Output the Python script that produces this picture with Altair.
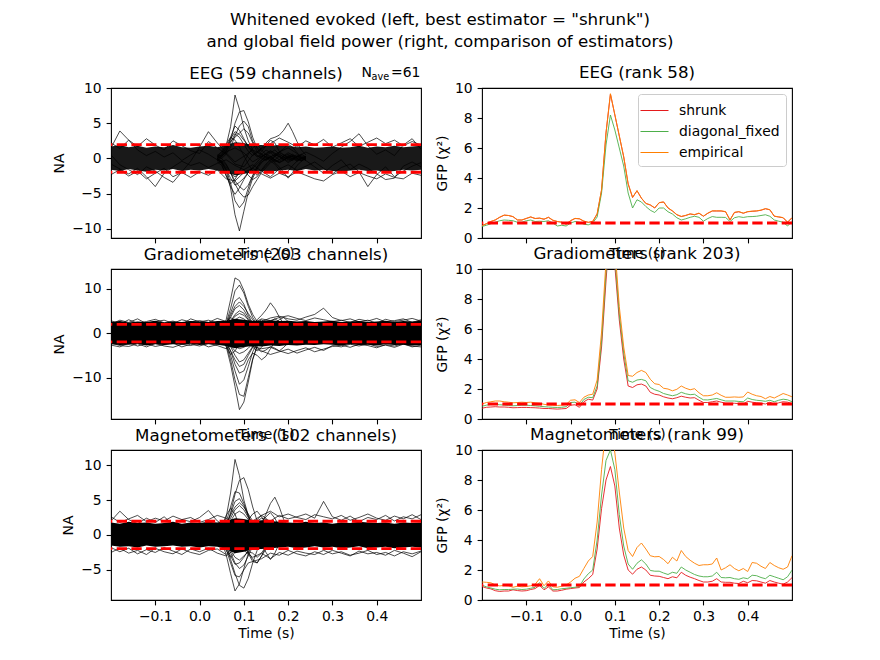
import altair as alt
import numpy as np
import pandas as pd

FONT = "DejaVu Sans"

# ---------------- time grids ----------------
t_gfp = np.round(np.arange(71) * 0.01 - 0.2, 2).tolist()   # GFP samples
t_band = np.round(np.arange(36) * 0.02 - 0.2, 2).tolist()  # band / noise traces
t_win = np.round(np.arange(21) * 0.01 + 0.04, 2).tolist()  # evoked window traces

estimators = ["shrunk", "diagonal_fixed", "empirical"]
est_colors = ["#e41a1c", "#4daf4a", "#ff7f00"]
whiten_bounds = [1.96, -1.96]
gfp_ref = [1.0]
x_ticks = [-0.1, 0.0, 0.1, 0.2, 0.3, 0.4]

sup_title = ['Whitened evoked (left, best estimator = "shrunk")',
             'and global field power (right, comparison of estimators)']
left_titles = ["EEG (59 channels)", "Gradiometers (203 channels)", "Magnetometers (102 channels)"]
right_titles = ["EEG (rank 58)", "Gradiometers (rank 203)", "Magnetometers (rank 99)"]
nave_parts = ["N", "ave", "=61"]

# ---------------- GFP values (right column) ----------------
eeg_shrunk = [0.82, 0.95, 1.1, 1.2, 1.38, 1.52, 1.5, 1.42, 1.2, 1.2,
              1.3, 1.4, 1.3, 1.32, 1.25, 1.38, 1.18, 1.1, 1.05, 0.92,
              1.15, 1.3, 1.28, 1.12, 1.04, 1.1, 1.6, 3.2, 7.0, 9.6,
              8.2, 6.8, 5.4, 3.6, 2.7, 3.15, 2.65, 2.3, 2.2, 2.0,
              2.35, 2.4, 2.0, 1.8, 1.55, 1.43, 1.5, 1.6, 1.55, 1.65,
              1.45, 1.65, 1.8, 1.8, 1.8, 1.75, 1.2, 1.7, 1.75, 1.65,
              1.75, 1.78, 1.8, 1.85, 1.95, 1.88, 1.45, 1.4, 1.35, 1.05,
              1.35]
eeg_empirical = [0.83, 0.96, 1.1, 1.21, 1.39, 1.53, 1.5, 1.43, 1.21, 1.2,
                 1.31, 1.41, 1.3, 1.33, 1.26, 1.38, 1.19, 1.1, 1.06, 0.93,
                 1.16, 1.31, 1.28, 1.13, 1.05, 1.11, 1.61, 3.22, 7.02, 9.62,
                 8.22, 6.82, 5.42, 3.62, 2.71, 3.16, 2.66, 2.31, 2.21, 2.01,
                 2.36, 2.41, 2.01, 1.81, 1.56, 1.44, 1.51, 1.61, 1.56, 1.66,
                 1.46, 1.66, 1.81, 1.81, 1.81, 1.76, 1.21, 1.71, 1.76, 1.66,
                 1.76, 1.79, 1.81, 1.86, 1.96, 1.89, 1.46, 1.41, 1.36, 1.06,
                 1.36]
eeg_diag = [0.77, 0.85, 0.95, 1.05, 1.15, 1.2, 1.18, 1.15, 1.05, 1.05,
            1.15, 1.2, 1.1, 1.12, 1.1, 1.15, 1.0, 0.8, 0.85, 0.8,
            1.0, 1.1, 1.05, 0.92, 0.88, 1.0, 1.4, 3.0, 6.2, 8.2,
            7.2, 6.0, 4.8, 3.0, 2.0, 2.55, 2.4, 2.1, 1.85, 1.7,
            2.0, 2.0, 1.75, 1.6, 1.35, 1.2, 1.28, 1.38, 1.45, 1.38,
            1.12, 1.3, 1.43, 1.38, 1.38, 1.37, 1.1, 1.35, 1.42, 1.37,
            1.42, 1.43, 1.45, 1.5, 1.55, 1.45, 1.2, 1.12, 1.05, 0.8,
            1.1]

grad_empirical = [1.0, 1.1, 1.15, 1.2, 1.2, 1.15, 1.12, 1.08, 1.1, 1.12,
                  1.1, 1.12, 1.08, 1.05, 0.98, 0.93, 0.92, 0.9, 0.92, 0.97,
                  1.25, 1.28, 1.1, 1.45, 1.6, 1.65, 2.6, 5.8, 10.5, 14.5,
                  11.5, 7.5, 4.8, 2.9, 2.85, 3.1, 3.24, 3.1, 2.65, 2.35,
                  2.3, 2.05, 2.0, 1.88, 1.98, 2.2, 2.05, 1.95, 2.02, 1.75,
                  1.55, 1.55, 1.6, 1.75, 1.58, 1.45, 1.45, 1.47, 1.45, 1.47,
                  1.8, 1.65, 1.55, 1.5, 1.35, 1.5, 1.4, 1.55, 1.7, 1.6,
                  1.48]
grad_diag = [0.85, 0.92, 0.97, 0.97, 0.95, 0.93, 0.9, 0.88, 0.9, 0.92,
             0.92, 0.9, 0.88, 0.85, 0.82, 0.8, 0.78, 0.77, 0.78, 0.82,
             1.1, 1.12, 0.9, 1.3, 1.45, 1.42, 2.2, 5.2, 9.8, 13.8,
             10.8, 7.0, 4.4, 2.55, 2.45, 2.6, 2.64, 2.55, 2.1, 1.95,
             1.85, 1.7, 1.62, 1.55, 1.62, 1.78, 1.68, 1.62, 1.65, 1.45,
             1.28, 1.27, 1.32, 1.37, 1.28, 1.2, 1.2, 1.2, 1.17, 1.15,
             1.4, 1.3, 1.25, 1.22, 1.18, 1.25, 1.15, 1.25, 1.32, 1.28,
             1.15]
grad_shrunk = [0.72, 0.78, 0.8, 0.82, 0.8, 0.8, 0.78, 0.75, 0.76, 0.77,
               0.77, 0.76, 0.75, 0.73, 0.7, 0.7, 0.68, 0.66, 0.68, 0.7,
               0.92, 0.95, 0.78, 1.15, 1.32, 1.26, 2.0, 4.8, 9.2, 13.2,
               10.2, 6.6, 4.0, 2.2, 2.1, 2.28, 2.33, 2.2, 1.78, 1.65,
               1.6, 1.48, 1.4, 1.35, 1.42, 1.52, 1.45, 1.4, 1.42, 1.25,
               1.1, 1.1, 1.15, 1.2, 1.12, 1.05, 1.05, 1.05, 1.02, 1.0,
               1.18, 1.12, 1.08, 1.05, 1.0, 1.12, 0.98, 1.08, 1.15, 1.12,
               1.03]

mag_empirical = [1.2, 1.18, 1.15, 1.0, 0.94, 0.97, 0.95, 0.85, 0.92, 0.88,
                 0.9, 0.95, 1.05, 1.42, 0.95, 1.27, 0.88, 0.85, 0.92, 1.0,
                 1.2, 1.45, 1.58, 2.1, 2.6, 2.9, 5.2, 8.7, 11.5, 12.0,
                 9.8, 7.2, 4.8, 3.3, 2.9, 3.5, 3.8, 3.4, 2.95, 2.88,
                 2.9, 2.7, 2.42, 2.85, 2.6, 3.3, 2.9, 2.65, 2.45, 2.3,
                 2.35, 2.35, 2.4, 2.8, 2.0, 2.15, 2.35, 2.1, 1.95, 2.1,
                 1.9, 2.5, 2.45, 2.25, 2.1, 2.5, 2.3, 2.15, 2.05, 2.2,
                 2.95]
mag_diag = [0.98, 0.88, 0.8, 0.72, 0.68, 0.7, 0.7, 0.72, 0.73, 0.7,
            0.72, 0.78, 0.85, 1.16, 0.77, 1.05, 0.68, 0.7, 0.75, 0.78,
            0.82, 0.85, 0.9, 1.4, 1.75, 2.0, 4.0, 7.0, 9.3, 10.0,
            8.7, 5.7, 3.6, 2.4, 2.05, 2.45, 2.68, 2.4, 1.97, 1.92,
            1.92, 1.8, 1.7, 1.85, 1.78, 2.2, 2.0, 1.85, 1.7, 1.6,
            1.55, 1.55, 1.6, 1.85, 1.5, 1.48, 1.5, 1.42, 1.38, 1.48,
            1.42, 1.65, 1.62, 1.5, 1.42, 1.65, 1.55, 1.45, 1.35, 1.55,
            1.99]
mag_shrunk = [0.9, 0.8, 0.74, 0.62, 0.57, 0.6, 0.6, 0.68, 0.63, 0.6,
              0.62, 0.7, 0.76, 0.98, 0.68, 0.87, 0.6, 0.6, 0.65, 0.72,
              0.76, 0.8, 0.83, 1.2, 1.42, 1.7, 3.4, 6.1, 8.0, 8.9,
              7.6, 4.8, 3.0, 2.0, 1.72, 2.05, 2.2, 2.0, 1.65, 1.6,
              1.58, 1.5, 1.42, 1.55, 1.48, 1.85, 1.65, 1.52, 1.42, 1.3,
              1.2, 1.2, 1.25, 1.42, 1.2, 1.18, 1.18, 1.12, 1.1, 1.25,
              1.15, 1.3, 1.28, 1.2, 1.12, 1.3, 1.2, 1.12, 1.05, 1.2,
              1.49]

# ---------------- whitened evoked (left column) ----------------
# dense noise band envelope (t_band)
eeg_band_hi = [1.7, 1.9, 1.6, 1.8, 1.5, 1.7, 1.6, 1.9, 1.6, 1.5, 1.7, 1.8, 1.6, 1.9, 2.3, 2.2, 1.9, 1.9,
               1.8, 1.9, 1.8, 1.6, 1.7, 1.5, 1.6, 1.7, 1.5, 1.6, 1.8, 1.5, 1.7, 1.6, 1.8, 1.6, 1.7, 1.8]
eeg_band_lo = [-1.6, -1.8, -1.5, -1.7, -1.9, -1.6, -1.7, -1.5, -1.8, -1.6, -1.7, -1.5, -1.7, -2.0, -2.4, -2.2, -1.9, -1.8,
               -1.9, -1.7, -1.6, -1.8, -1.5, -1.7, -1.6, -1.8, -1.9, -1.7, -1.6, -1.8, -1.7, -1.9, -1.8, -1.6, -1.7, -1.6]
grad_band_hi = [2.5, 2.7, 2.4, 2.6, 2.5, 2.8, 2.4, 2.6, 2.5, 2.7, 2.6, 2.5, 2.7, 2.8, 3.2, 3.0, 2.8, 2.8,
                2.9, 2.7, 2.8, 2.6, 2.7, 2.5, 2.6, 2.8, 2.5, 2.6, 2.7, 2.5, 2.6, 2.8, 2.5, 2.7, 2.6, 2.8]
grad_band_lo = [-2.5, -2.7, -2.6, -2.4, -2.8, -2.5, -2.7, -2.5, -2.6, -2.4, -2.7, -2.5, -2.6, -2.9, -3.4, -3.1, -2.9, -3.0,
                -2.8, -2.9, -2.7, -2.8, -2.6, -2.7, -2.5, -2.6, -2.8, -2.5, -2.7, -2.6, -2.8, -2.5, -2.7, -2.6, -2.8, -2.7]
mag_band_hi = [1.8, 1.6, 1.9, 1.7, 1.8, 1.6, 1.7, 1.9, 1.6, 1.8, 1.7, 1.9, 1.8, 2.0, 2.4, 2.3, 2.0, 2.1,
               2.0, 1.9, 1.8, 1.7, 1.9, 1.7, 1.8, 1.6, 1.8, 1.7, 1.9, 1.8, 1.7, 1.8, 1.6, 1.8, 1.7, 1.8]
mag_band_lo = [-1.5, -1.7, -1.6, -1.8, -1.5, -1.7, -1.6, -1.5, -1.7, -1.6, -1.8, -1.6, -1.7, -2.0, -2.6, -2.4, -2.0, -2.0,
               -1.9, -1.8, -1.7, -1.9, -1.8, -1.6, -1.8, -1.7, -1.9, -1.8, -1.6, -1.9, -1.8, -1.7, -1.9, -1.8, -1.7, -1.8]

# channels leaving the band (t_band)
eeg_noise = [
    [1.5, 3.9, 2.6, 1.2, 0.4, 1.0, 0.2, 0.8, -0.3, 0.5, 1.2, 0.6, -0.2, 0.9, 1.5, 0.8, -0.5, 0.3,
     1.1, 0.4, -0.6, 0.2, 0.9, 0.3, -0.4, 0.7, 1.6, 2.4, 3.5, 1.8, 0.6, 1.2, 0.4, 1.9, 2.8, 1.3],
    [-0.8, -1.5, -2.2, -1.4, -2.6, -4.0, -2.1, -1.2, -0.4, -1.0, -0.6, -1.3, -0.7, -0.2, -1.0, -1.6, -0.9, -1.8,
     -2.6, -1.5, -0.9, -1.7, -1.1, -0.5, -1.4, -2.2, -1.3, -0.8, -1.9, -4.0, -2.3, -1.2, -2.6, -1.8, -1.1, -0.6],
    [0.5, -0.9, -1.6, -2.3, -1.2, -1.8, -2.7, -3.4, -1.9, -0.4, 1.6, 3.8, 2.2, 0.8, -0.5, 0.3, 1.2, 0.6,
     -0.4, 0.9, 1.5, 0.7, -0.3, -1.2, -2.1, -1.0, -0.2, -1.6, -0.8, -1.4, -2.2, -3.0, -2.8, -1.1, -0.5, -1.2],
    [2.2, 1.4, 2.6, 1.7, 2.8, 1.9, 1.2, 2.5, 1.8, 1.1, 0.7, 2.4, 1.5, 0.6, -0.8, -1.2, 0.5, 1.4,
     2.1, 2.9, 2.3, 1.6, 2.5, 1.9, 2.7, 1.6, 2.2, 2.8, 1.7, 2.3, 2.9, 2.1, 2.6, 1.8, 2.4, 1.9],
    [-2.3, -1.6, -2.5, -1.8, -2.9, -2.1, -1.4, -2.6, -2.0, -2.7, -1.9, -2.4, -1.6, -2.9, -3.2, -2.0, -1.4, -2.2,
     -2.8, -2.1, -2.6, -1.9, -2.4, -2.9, -3.2, -2.3, -1.8, -2.6, -2.0, -2.5, -2.9, -2.2, -2.7, -2.9, -2.1, -2.4],
]
grad_noise = [
    [2.8, 2.0, 3.0, 2.2, 2.6, 3.1, 2.3, 2.7, 2.0, 3.2, 2.5, 2.9, 2.2, 2.0, 1.0, 0.5, 1.5, 2.6,
     3.4, 3.8, 3.2, 2.9, 3.6, 4.2, 5.6, 3.5, 2.8, 3.2, 2.5, 2.9, 2.2, 3.1, 2.6, 2.9, 3.3, 2.7],
    [-2.7, -3.1, -2.2, -2.9, -2.4, -3.0, -2.6, -2.2, -3.1, -2.5, -2.9, -2.3, -2.8, -3.5, -2.0, -1.0, -2.5, -4.0,
     -4.8, -4.2, -3.6, -4.5, -3.8, -3.2, -3.9, -2.8, -3.1, -2.5, -2.9, -2.4, -3.0, -2.7, -3.2, -2.5, -2.9, -3.1],
    [2.0, 2.9, 2.4, 3.2, 2.1, 2.6, 2.9, 2.2, 3.0, 2.5, 2.8, 2.4, 3.3, 2.6, 1.5, 1.0, 2.2, 3.2,
     2.8, 3.5, 3.9, 3.3, 2.8, 3.4, 3.0, 2.6, 2.9, 2.4, 3.1, 2.7, 3.3, 2.5, 2.8, 3.2, 2.4, 3.0],
    [-2.2, -2.8, -3.0, -2.4, -3.1, -2.3, -2.9, -3.2, -2.5, -2.8, -2.2, -3.1, -2.6, -2.0, -1.5, -2.2, -3.0, -3.5,
     -3.2, -4.0, -4.6, -3.9, -3.3, -4.2, -3.6, -3.0, -2.7, -3.2, -2.5, -2.8, -3.3, -2.6, -2.9, -2.4, -3.1, -2.7],
]
mag_noise = [
    [2.0, 3.4, 2.2, 1.6, 2.4, 1.8, 2.6, 1.5, 2.2, 1.9, 2.5, 3.5, 2.0, 1.2, 0.5, 0.8, 1.6, 2.4,
     2.0, 2.8, 2.3, 2.6, 3.0, 2.4, 4.8, 2.6, 2.1, 2.7, 1.9, 2.5, 2.2, 2.8, 2.0, 2.6, 2.3, 2.9],
    [-1.8, -2.4, -1.9, -2.7, -2.1, -2.5, -1.8, -2.3, -2.8, -2.0, -2.4, -1.9, -2.6, -3.0, -2.0, -1.5, -3.8, -3.4,
     -2.6, -2.9, -2.2, -2.7, -3.0, -2.4, -2.8, -2.2, -2.6, -3.0, -2.3, -2.7, -2.5, -2.9, -2.2, -2.6, -3.1, -2.4],
    [2.6, 1.8, 2.3, 2.8, 1.9, 2.4, 2.0, 2.7, 2.2, 2.5, 1.8, 2.2, 2.8, 2.4, 1.4, 1.0, 2.0, 2.8,
     3.4, 2.6, 3.0, 2.5, 2.2, 2.9, 2.6, 2.3, 2.8, 2.1, 2.5, 3.0, 2.4, 2.1, 2.7, 2.3, 2.9, 2.2],
    [-2.5, -1.9, -2.6, -2.2, -2.8, -1.9, -2.4, -2.7, -2.0, -2.5, -2.8, -2.2, -2.0, -2.8, -1.5, -2.2, -3.2, -2.6,
     -3.4, -2.5, -2.9, -2.3, -2.6, -2.8, -2.2, -2.7, -2.4, -2.9, -2.6, -2.2, -2.8, -2.5, -3.0, -2.4, -2.7, -2.3],
]

# evoked response traces (t_win)
eeg_evoked = [
    [0.3, 0.8, 1.8, 4.5, 9.0, 7.0, 4.4, 2.5, 1.2, 0.4, 0.0, -0.3, 0.2, 0.5, 0.3, -0.2, 0.1, 0.4, 0.0, -0.3, 0.2],
    [0.0, 0.4, 1.0, 2.5, 5.0, 6.6, 6.8, 5.2, 3.0, 1.4, 0.6, 0.2, -0.2, 0.3, 0.6, 0.2, -0.1, 0.3, 0.5, 0.1, -0.2],
    [0.2, 0.0, 0.6, 1.6, 3.2, 4.6, 5.3, 4.5, 2.4, 1.5, 1.0, 1.8, 2.6, 2.2, 1.0, 0.5, 0.2, -0.1, 0.3, 0.6, 0.2],
    [-0.3, 0.2, 1.2, 3.0, 4.6, 4.0, 2.8, 1.6, 0.8, 0.2, 0.6, 1.2, 0.8, 0.3, -0.2, 0.4, 0.8, 0.5, 0.0, -0.4, 0.1],
    [0.5, 0.3, 0.8, 2.2, 3.5, 3.0, 2.0, 1.0, 0.4, 0.8, 1.5, 2.2, 2.8, 3.0, 3.3, 4.0, 5.0, 3.8, 2.4, 1.2, 0.5],
    [-0.2, -0.6, -1.8, -4.2, -8.0, -10.3, -7.5, -4.8, -2.8, -1.5, -0.6, 0.0, 0.3, -0.2, -0.5, 0.1, 0.4, 0.2, -0.3, 0.0, 0.3],
    [0.0, -0.4, -1.5, -3.5, -6.0, -7.0, -6.2, -4.2, -2.5, -1.2, -0.5, -0.1, 0.2, -0.3, -0.6, -0.2, 0.2, 0.0, -0.4, -0.1, 0.2],
    [0.3, 0.0, -0.8, -2.0, -3.6, -4.8, -5.5, -5.2, -4.0, -3.0, -2.0, -1.3, -0.6, -0.2, 0.3, 0.0, -0.4, -0.1, 0.3, 0.0, -0.3],
    [-0.5, -1.0, -2.4, -4.0, -5.1, -4.2, -3.0, -2.0, -1.4, -0.8, -0.2, 0.3, 0.0, -0.6, -1.2, -2.0, -2.8, -2.0, -1.0, -0.4, 0.0],
    [0.0, -0.8, -2.5, -3.6, -3.0, -1.8, -0.5, 0.6, 1.5, 2.0, 1.2, 0.5, 0.0, -0.5, -0.2, 0.3, 0.6, 0.2, -0.2, 0.1, 0.3],
    [0.4, 1.0, 2.0, 3.0, 2.6, 1.6, 0.4, -0.8, -1.8, -2.4, -1.6, -0.8, -0.2, 0.4, 0.8, 0.5, 0.0, -0.3, 0.2, 0.4, 0.0],
    [-0.2, -0.3, -0.9, -2.0, -3.2, -4.0, -4.5, -3.8, -2.4, -1.2, -0.3, 0.4, 0.8, 1.2, 0.6, 0.2, -0.2, 0.0, 0.3, 0.1, -0.1],
    [0.2, 0.5, 1.4, 2.8, 3.8, 3.4, 2.6, 1.8, 1.0, 0.4, 0.2, 0.6, 1.0, 0.6, 0.2, -0.2, 0.3, 0.6, 0.2, -0.1, 0.3],
    [-0.3, -0.6, -1.6, -2.8, -3.8, -3.4, -2.8, -2.0, -1.2, -0.5, 0.2, 0.6, 0.3, -0.2, -0.6, -0.3, 0.2, 0.4, 0.0, -0.3, 0.0],
    [0.1, 0.6, 1.6, 2.4, 3.0, 3.6, 4.2, 3.6, 2.2, 1.0, 0.3, -0.2, 0.2, 0.6, 0.9, 1.4, 2.0, 1.6, 0.8, 0.2, -0.1],
    [0.0, -0.5, -1.2, -2.2, -2.6, -2.2, -1.6, -2.4, -3.0, -2.6, -1.8, -1.0, -0.4, -0.8, -1.6, -2.2, -1.8, -1.0, -0.4, 0.1, 0.2],
]
grad_evoked = [
    [0.3, 1.0, 3.0, 7.5, 12.4, 11.8, 9.6, 6.5, 4.2, 2.6, 1.5, 0.8, 0.3, -0.2, 0.4, 0.6, 0.1, -0.3, 0.2, 0.5, 0.0],
    [-0.2, 0.6, 2.2, 5.5, 9.5, 10.8, 9.0, 6.0, 3.5, 2.0, 1.0, 0.4, 0.8, 1.2, 0.6, 0.0, -0.4, 0.3, 0.6, 0.1, -0.2],
    [0.4, 0.8, 2.0, 4.5, 7.2, 8.0, 6.5, 4.0, 2.2, 1.2, 0.4, -0.2, 0.3, 0.8, 0.4, 0.0, 0.5, 0.2, -0.3, 0.0, 0.4],
    [0.0, 0.5, 1.5, 3.5, 5.5, 6.2, 5.2, 3.5, 2.0, 3.0, 4.0, 5.2, 6.8, 5.5, 3.6, 2.0, 0.8, 0.2, -0.3, 0.2, 0.5],
    [-0.3, 0.2, 1.0, 2.6, 4.2, 5.0, 4.5, 3.0, 1.6, 0.6, 0.0, 0.4, 0.9, 0.5, -0.2, 0.3, 0.8, 0.4, 0.0, -0.4, 0.0],
    [-0.4, -1.0, -3.0, -7.0, -12.0, -17.2, -15.5, -11.0, -6.0, -2.8, -1.0, -0.2, 0.3, -0.4, -0.8, -0.2, 0.4, 0.1, -0.3, 0.0, 0.3],
    [0.2, -0.6, -2.5, -6.0, -10.5, -13.8, -14.2, -10.0, -5.8, -3.0, -1.5, -0.6, 0.0, 0.5, 0.2, -0.3, -0.6, -0.1, 0.3, 0.0, -0.2],
    [-0.2, -0.8, -2.0, -5.0, -8.5, -11.5, -10.5, -7.5, -4.2, -2.2, -1.0, -0.3, 0.2, -0.2, -0.6, -0.3, 0.2, 0.5, 0.1, -0.3, 0.0],
    [0.0, -0.5, -1.8, -4.0, -7.0, -9.0, -8.5, -6.0, -4.5, -5.0, -6.0, -5.2, -3.5, -2.0, -1.0, -0.3, 0.2, -0.2, -0.5, 0.0, 0.3],
    [0.3, -0.2, -1.2, -3.0, -5.0, -6.5, -6.0, -4.5, -3.0, -1.8, -0.6, 0.2, 0.6, 0.3, -0.3, -0.8, -0.4, 0.2, 0.4, 0.0, -0.3],
    [-0.5, -1.2, -3.0, -4.8, -4.0, -2.5, -1.0, 0.2, 1.2, 2.4, 3.0, 2.0, 1.0, 0.4, -0.2, 0.2, 0.6, 0.3, -0.2, 0.1, 0.4],
    [0.5, 1.2, 2.5, 3.5, 2.8, 1.2, -0.5, -2.0, -3.2, -4.0, -3.2, -1.8, -0.6, 0.2, 0.5, 0.1, -0.3, 0.2, 0.6, 0.2, -0.2],
    [0.0, 0.3, 0.8, 1.8, 3.0, 3.6, 3.2, 2.4, 1.4, 0.6, 0.3, 0.8, 1.5, 2.2, 3.0, 3.5, 2.6, 1.4, 0.6, 0.2, 0.0],
    [-0.1, -0.3, -1.0, -2.0, -3.0, -3.5, -3.2, -2.6, -2.8, -3.6, -4.2, -3.8, -3.0, -3.4, -4.0, -3.2, -2.2, -1.2, -0.5, 0.0, 0.2],
    [0.2, 0.8, 2.0, 4.0, 6.0, 7.0, 6.0, 4.4, 3.0, 2.0, 1.4, 2.0, 2.6, 3.2, 2.6, 1.6, 0.8, 0.3, 0.0, 0.3, 0.2],
    [-0.2, -0.8, -2.2, -4.0, -6.0, -7.5, -7.0, -5.0, -3.2, -2.0, -1.2, -0.6, -1.0, -1.8, -2.6, -2.0, -1.2, -0.6, 0.0, 0.2, -0.1],
    [0.0, 0.4, 1.2, 2.5, 3.8, 4.4, 4.0, 3.0, 2.0, 1.2, 0.6, 0.2, -0.2, 0.3, 0.6, 0.2, -0.2, 0.1, 0.4, 0.0, -0.2],
    [0.1, -0.4, -1.4, -2.8, -4.0, -4.6, -4.2, -3.4, -2.4, -1.6, -0.8, -0.3, 0.2, 0.5, 0.1, -0.4, -0.8, -0.3, 0.2, 0.4, 0.0],
]
mag_evoked = [
    [0.2, 0.8, 2.5, 6.0, 10.8, 8.5, 5.0, 2.8, 1.2, 0.4, 0.0, 0.5, 1.0, 0.4, -0.2, 0.3, 0.6, 0.1, -0.3, 0.2, 0.4],
    [-0.2, 0.3, 1.2, 3.2, 5.8, 7.8, 8.2, 6.5, 4.0, 2.0, 0.8, 0.2, -0.3, 0.2, 0.6, 0.2, -0.2, 0.3, 0.5, 0.0, -0.3],
    [0.3, 0.6, 1.8, 4.0, 6.2, 6.0, 4.5, 2.8, 1.5, 0.8, 1.6, 3.0, 4.5, 5.4, 4.0, 2.2, 1.0, 0.3, -0.2, 0.3, 0.5],
    [0.0, 0.4, 1.4, 3.0, 4.8, 5.2, 4.2, 2.6, 1.2, 0.3, -0.3, 0.2, 0.8, 0.4, -0.1, 0.4, 0.7, 0.2, -0.3, 0.1, 0.4],
    [-0.3, -1.0, -2.8, -5.5, -8.0, -7.0, -4.8, -2.6, -1.2, -0.4, 0.2, 0.5, 0.1, -0.4, 0.0, 0.4, 0.2, -0.3, 0.0, 0.3, -0.1],
    [0.2, -0.4, -1.5, -3.5, -5.5, -7.2, -7.6, -6.2, -4.0, -2.2, -0.8, 0.0, 0.4, 0.1, -0.3, 0.2, 0.5, 0.1, -0.3, 0.0, 0.2],
    [-0.2, -0.6, -2.0, -4.0, -5.8, -6.0, -5.0, -4.0, -3.8, -4.0, -3.0, -2.0, -1.0, -0.3, 0.2, 0.0, -0.4, 0.1, 0.4, 0.0, -0.2],
    [0.0, -0.3, -1.0, -2.5, -4.0, -4.8, -4.3, -3.0, -1.6, -0.6, -1.2, -2.5, -3.5, -2.6, -1.2, -0.3, 0.2, 0.5, 0.1, -0.3, 0.0],
    [0.5, 1.2, 2.8, 3.8, 3.0, 1.2, -0.8, -2.4, -3.5, -4.0, -3.0, -1.6, -0.5, 0.3, 0.8, 0.4, -0.1, 0.2, 0.5, 0.1, -0.2],
    [-0.4, -1.0, -2.2, -3.2, -2.5, -1.0, 0.8, 2.2, 3.0, 3.4, 2.6, 1.5, 0.6, 0.0, -0.5, -0.2, 0.3, 0.6, 0.2, -0.2, 0.1],
    [0.1, 0.4, 1.2, 2.4, 3.6, 4.2, 3.6, 2.5, 1.6, 1.0, 1.8, 2.6, 3.2, 2.4, 1.2, 0.4, 0.0, -0.3, 0.1, 0.4, 0.2],
    [0.1, 0.5, 1.4, 2.8, 4.0, 4.6, 4.0, 3.0, 2.0, 1.2, 0.6, 0.2, 0.6, 1.2, 0.8, 0.3, -0.2, 0.2, 0.5, 0.1, 0.0],
    [-0.1, -0.6, -1.6, -3.0, -4.2, -4.0, -3.2, -2.2, -1.4, -0.8, -0.2, 0.3, 0.0, -0.4, -0.8, -0.4, 0.0, 0.3, 0.1, -0.2, 0.0],
    [0.2, 0.4, 1.0, 2.0, 3.0, 3.4, 3.0, 2.2, 1.6, 2.2, 2.8, 2.4, 1.6, 0.8, 0.2, -0.2, 0.2, 0.5, 0.2, -0.1, 0.1],
    [-0.2, -0.4, -1.2, -2.2, -3.2, -3.6, -3.0, -2.4, -2.6, -3.2, -2.6, -1.6, -0.8, -0.2, 0.3, 0.0, -0.3, 0.1, 0.3, 0.0, -0.1],
]

# ---------------- chart construction ----------------
W, H = 310, 150


def title_params(text, offset):
    return alt.TitleParams(text, fontSize=16.7, font=FONT, fontWeight="normal", anchor="middle",
                           offset=offset, color="black")


def x_enc(show_labels):
    return alt.X("t:Q", scale=alt.Scale(domain=[-0.2, 0.5], nice=False, zero=False),
                 axis=alt.Axis(values=x_ticks, format=".1f", title="Time (s)", labels=show_labels))


def dashed_rule(values, yscale, yaxis, field="y"):
    return alt.Chart(pd.DataFrame({field: values})).mark_rule(
        color="#ff0000", strokeWidth=2.8, strokeDash=[10.3, 4.4]
    ).encode(y=alt.Y(f"{field}:Q", scale=yscale, axis=yaxis))


def left_panel(title, hi, lo, noise, evoked, ydom, yticks, show_labels, band_opacity, toff, nave=False):
    band_df = pd.DataFrame({"t": t_band, "hi": hi, "lo": lo})
    rows = []
    for k, tr in enumerate(noise):
        rows += [{"t": t, "v": v, "ch": f"n{k}"} for t, v in zip(t_band, tr)]
    for k, tr in enumerate(evoked):
        rows += [{"t": t, "v": v, "ch": f"e{k}"} for t, v in zip(t_win, tr)]
    tr_df = pd.DataFrame(rows)
    yscale = alt.Scale(domain=ydom, nice=False, zero=False)
    yaxis = alt.Axis(values=yticks, title="NA")
    band = alt.Chart(band_df).mark_area(color="black", opacity=band_opacity, clip=True).encode(
        x=x_enc(show_labels), y=alt.Y("hi:Q", scale=yscale, axis=yaxis), y2="lo:Q")
    lines = alt.Chart(tr_df).mark_line(color="black", strokeWidth=0.7, clip=True).encode(
        x=x_enc(show_labels), y=alt.Y("v:Q", scale=yscale, axis=yaxis), detail="ch:N")
    layers = [band, lines, dashed_rule(whiten_bounds, yscale, yaxis)]
    if nave:
        specs = [(nave_parts[0], 250.5, -11, 13.9), (nave_parts[1], 260.5, -8, 9.7), (nave_parts[2], 280, -11, 13.9)]
        for txt, xp, yp, fs in specs:
            layers.append(alt.Chart(pd.DataFrame({"s": [txt]})).mark_text(
                align="left", baseline="alphabetic", font=FONT, fontSize=fs, color="black"
            ).encode(text="s:N", x=alt.value(xp), y=alt.value(yp)))
    return alt.layer(*layers).properties(width=W, height=H, title=title_params(title, toff))


def right_panel(title, shr, diag, emp, show_labels, legend):
    yscale = alt.Scale(domain=[0, 10], nice=False, zero=False)
    yaxis = alt.Axis(values=[0, 2, 4, 6, 8, 10], title="GFP (χ²)")
    frames = [pd.DataFrame({"t": t_gfp, "v": vals, "est": name, "k": i})
              for i, (name, vals) in enumerate(zip(estimators, [shr, diag, emp]))]
    df = pd.concat(frames, ignore_index=True)
    leg = alt.Legend(title=None, orient="top-right", offset=6, symbolType="M-1.4,0L1.4,0",
                     symbolSize=400, symbolStrokeWidth=1.0,
                     labelFont=FONT, labelFontSize=13.9, labelColor="black", labelOffset=14,
                     rowPadding=3, padding=6, strokeColor="#cccccc", fillColor="white",
                     cornerRadius=3) if legend else None
    lines = alt.Chart(df).mark_line(strokeWidth=0.9, clip=True).encode(
        x=x_enc(show_labels), y=alt.Y("v:Q", scale=yscale, axis=yaxis),
        color=alt.Color("est:N", scale=alt.Scale(domain=estimators, range=est_colors),
                        sort=estimators, legend=leg),
        order="k:Q")
    layers = [lines, dashed_rule(gfp_ref, yscale, yaxis)]
    return alt.layer(*layers).properties(width=W, height=H, title=title_params(title, -1))


panels = [
    left_panel(left_titles[0], eeg_band_hi, eeg_band_lo, eeg_noise, eeg_evoked, [-11.3, 10.0], [-10, -5, 0, 5, 10], False, 0.9, -17, nave=True),
    right_panel(right_titles[0], eeg_shrunk, eeg_diag, eeg_empirical, False, True),
    left_panel(left_titles[1], grad_band_hi, grad_band_lo, grad_noise, grad_evoked, [-19.3, 14.4], [-10, 0, 10], False, 1.0, 5),
    right_panel(right_titles[1], grad_shrunk, grad_diag, grad_empirical, False, False),
    left_panel(left_titles[2], mag_band_hi, mag_band_lo, mag_noise, mag_evoked, [-9.3, 12.15], [-5, 0, 5, 10], True, 1.0, 5),
    right_panel(right_titles[2], mag_shrunk, mag_diag, mag_empirical, True, False),
]

chart = alt.concat(
    *panels, columns=2, spacing=alt.RowColnumber(row=31, column=61), bounds="flush",
    title=alt.TitleParams(sup_title, fontSize=16.7, font=FONT, fontWeight="normal", anchor="start",
                          align="center", frame="group", lineHeight=22, offset=14, dx=329, color="black"),
).resolve_legend(color="independent").resolve_scale(color="independent").properties(
    padding={"left": 52, "top": 12, "right": 10, "bottom": 10}
).configure(font=FONT, background="white").configure_view(
    stroke="black", strokeWidth=1.1
).configure_axis(
    domain=False, grid=False, tickColor="black", tickSize=4.9, tickWidth=1.1,
    labelFont=FONT, labelFontSize=13.9, labelColor="black", labelPadding=4.9,
    titleFont=FONT, titleFontSize=13.9, titleFontWeight="normal", titleColor="black", titlePadding=5,
).configure_axisX(titlePadding=3)

chart.save("out.html", embed_options={"renderer": "svg", "actions": False})
